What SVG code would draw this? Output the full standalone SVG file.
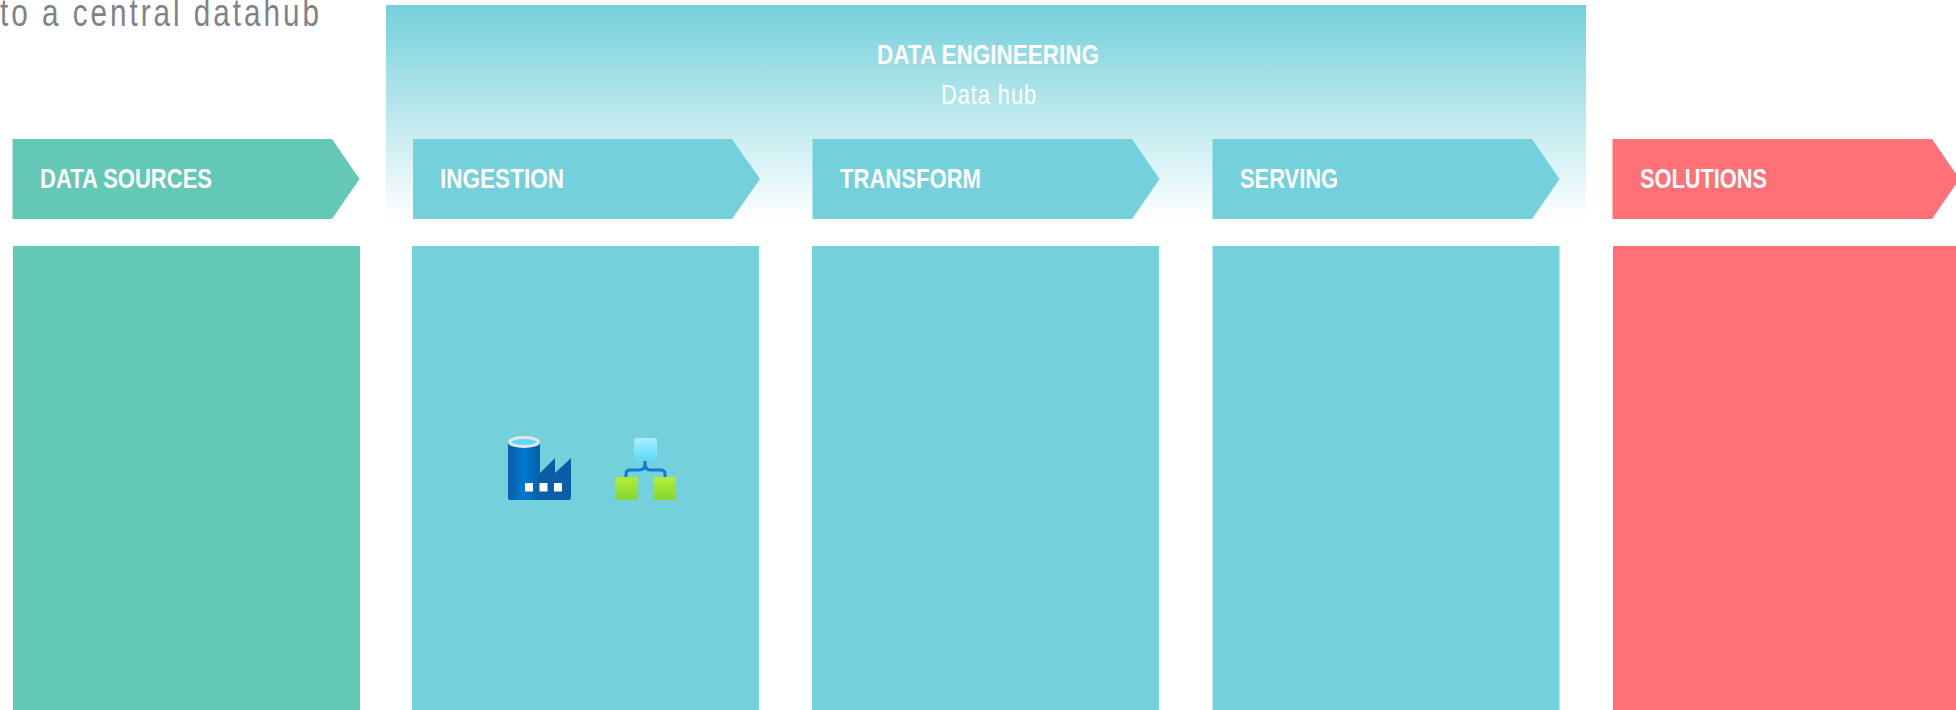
<svg xmlns="http://www.w3.org/2000/svg" width="1956" height="710" viewBox="0 0 1956 710">
<style>
text{font-family:"Liberation Sans",Arial,sans-serif}
.h{font-size:28px;font-weight:700;fill:#fff}
.g{fill:#64c8b6}.b{fill:#74d0db}.r{fill:#ff7077}
</style>
<defs>
<linearGradient id="hub" x1="0" y1="0" x2="0" y2="1"><stop offset="0" stop-color="#74d0db"/><stop offset="1" stop-color="#74d0db" stop-opacity="0"/></linearGradient>
<linearGradient id="cyl" x1="0" y1="0" x2="1" y2="0"><stop offset="0" stop-color="#0a5ea8"/><stop offset=".5" stop-color="#0078d0"/><stop offset="1" stop-color="#0a5ea8"/></linearGradient>
<linearGradient id="top" x1="0" y1="0" x2="0" y2="1"><stop offset="0" stop-color="#a8ecff"/><stop offset="1" stop-color="#5fd8fa"/></linearGradient>
<linearGradient id="lime" x1="0" y1="0" x2="0" y2="1"><stop offset="0" stop-color="#b4ec36"/><stop offset="1" stop-color="#86d633"/></linearGradient>
</defs>
<text transform="translate(0 26) scale(.78 1)" font-size="38" fill="#808285" textLength="409" lengthAdjust="spacing">to a central datahub</text>
<g id="data-engineering">
<rect x="386" y="5" width="1200" height="215" fill="url(#hub)"/>
<text class="h" x="877" y="64" textLength="222" lengthAdjust="spacingAndGlyphs">DATA ENGINEERING</text>
<text transform="translate(941 104) scale(.78 1)" font-size="28" fill="#fff" textLength="122" lengthAdjust="spacing">Data hub</text>
</g>
<g id="data-sources">
<polygon class="g" points="12.500,139 332,139 359.500,179 332,219 12.500,219"/>
<text class="h" x="40" y="188" textLength="172" lengthAdjust="spacingAndGlyphs">DATA SOURCES</text>
<rect class="g" x="13" y="246" width="347" height="464"/>
</g>
<g id="ingestion">
<polygon class="b" points="413,139 732,139 760,179 732,219 413,219"/>
<text class="h" x="440" y="188" textLength="124" lengthAdjust="spacingAndGlyphs">INGESTION</text>
<rect class="b" x="412" y="246" width="347" height="464"/>
<g id="factory-icon">
<path d="M530 473h10l15-15v15l16-15v40a2 2 0 0 1-2 2h-39z" fill="#0a5ea8"/>
<path d="M508 442h32v58h-30a2 2 0 0 1-2-2z" fill="url(#cyl)"/>
<ellipse cx="524" cy="442" rx="14.500" ry="4.500" fill="#5fd8fa" stroke="#e6e6e6" stroke-width="3"/>
<rect x="525" y="483" width="8" height="8.500" fill="#fff"/>
<rect x="539.500" y="483" width="8" height="8.500" fill="#fff"/>
<rect x="554" y="483" width="8" height="8.500" fill="#fff"/>
</g>
<g id="pipeline-icon">
<path d="M645 461v3q0 6-6 6h-9q-4 0-4 4v3M645 464q0 6 6 6h10q4 0 4 4v3" fill="none" stroke="#0f7cd4" stroke-width="3"/>
<rect x="634" y="438" width="23" height="23" rx="2" fill="url(#top)"/>
<rect x="615" y="477" width="23" height="23" rx="1.500" fill="url(#lime)"/>
<rect x="653" y="477" width="23" height="23" rx="1.500" fill="url(#lime)"/>
</g>
</g>
<g id="transform">
<polygon class="b" points="812.500,139 1132,139 1159.500,179 1132,219 812.500,219"/>
<text class="h" x="840" y="188" textLength="141" lengthAdjust="spacingAndGlyphs">TRANSFORM</text>
<rect class="b" x="812" y="246" width="347" height="464"/>
</g>
<g id="serving">
<polygon class="b" points="1212.500,139 1532,139 1559.500,179 1532,219 1212.500,219"/>
<text class="h" x="1240" y="188" textLength="98" lengthAdjust="spacingAndGlyphs">SERVING</text>
<rect class="b" x="1212.500" y="246" width="347" height="464"/>
</g>
<g id="solutions">
<polygon class="r" points="1612.500,139 1932,139 1959.500,179 1932,219 1612.500,219"/>
<text class="h" x="1640" y="188" textLength="127" lengthAdjust="spacingAndGlyphs">SOLUTIONS</text>
<rect class="r" x="1613" y="246" width="343" height="464"/>
</g>
<g id="connectors"/>
</svg>
